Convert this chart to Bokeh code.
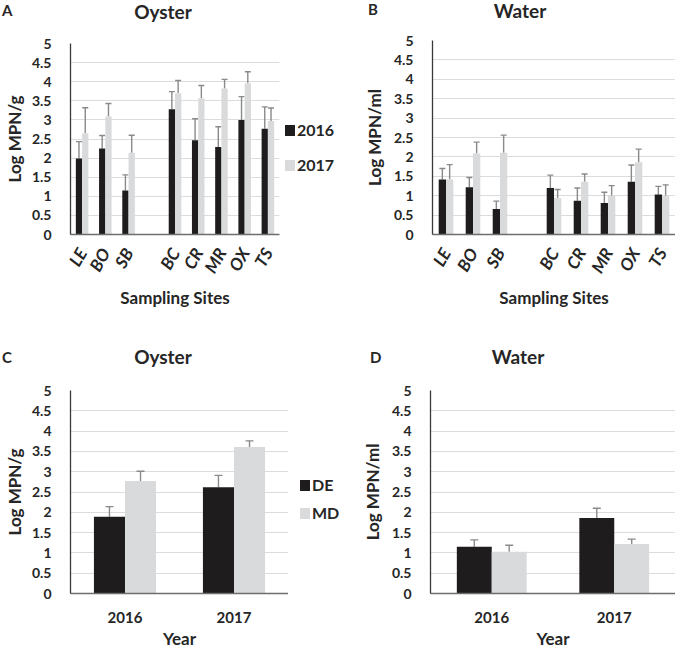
from bokeh.plotting import figure
from bokeh.models import (FactorRange, Range1d, Whisker, TeeHead, Div,
                          NumeralTickFormatter, SingleIntervalTicker, ColumnDataSource)
from bokeh.transform import dodge
from bokeh.layouts import row, column
from bokeh.embed import file_html
from bokeh.resources import INLINE

# ---------------- data ----------------
sites = ["LE", "BO", "SB", "BC", "CR", "MR", "OX", "TS"]
site_axis = ["LE", "BO", "SB", " ", "BC", "CR", "MR", "OX", "TS"]
series_years = ["2016", "2017"]

oyster_2016 = [1.99, 2.25, 1.15, 3.28, 2.47, 2.29, 3.00, 2.77]
oyster_2016_err = [0.44, 0.34, 0.41, 0.46, 0.56, 0.53, 0.61, 0.57]
oyster_2017 = [2.65, 3.09, 2.14, 3.70, 3.57, 3.82, 3.96, 2.97]
oyster_2017_err = [0.67, 0.34, 0.46, 0.33, 0.33, 0.24, 0.30, 0.34]

water_2016 = [1.42, 1.22, 0.66, 1.20, 0.87, 0.81, 1.36, 1.03]
water_2016_err = [0.28, 0.25, 0.20, 0.33, 0.33, 0.28, 0.43, 0.21]
water_2017 = [1.42, 2.09, 2.11, 0.94, 1.36, 1.00, 1.86, 1.00]
water_2017_err = [0.38, 0.29, 0.45, 0.22, 0.20, 0.26, 0.34, 0.28]

years = ["2016", "2017"]
states = ["DE", "MD"]
oyster_DE = [1.89, 2.62]
oyster_DE_err = [0.25, 0.29]
oyster_MD = [2.77, 3.61]
oyster_MD_err = [0.24, 0.15]
water_DE = [1.15, 1.86]
water_DE_err = [0.17, 0.24]
water_MD = [1.03, 1.22]
water_MD_err = [0.16, 0.12]

# ---------------- style ----------------
DARK = "#1e1c1d"
LIGHT = "#d9dadb"
ERR = "#8a8a8a"
TXT = "#262626"
GRID = "#dcdcdc"
FONT = "Lato"


def header(letter, title, width, height, letter_x, letter_top, title_cx, title_top):
    html = (
        f'<div style="position:relative;width:{width}px;height:{height}px;'
        f'font-family:{FONT};font-weight:bold;color:{TXT};white-space:nowrap;">'
        f'<span style="position:absolute;left:{letter_x}px;top:{letter_top}px;'
        f'font-size:15px;line-height:18px;">{letter}</span>'
        f'<span style="position:absolute;left:{title_cx - 60}px;width:120px;text-align:center;'
        f'top:{title_top}px;font-size:19px;line-height:22px;">{title}</span></div>'
    )
    return Div(text=html, width=width, height=height, margin=0)


def legend_div(labels, width, height, sq_x, centers):
    parts = [f'<div style="position:relative;width:{width}px;height:{height}px;'
             f'font-family:{FONT};font-weight:bold;font-size:16px;color:{TXT};white-space:nowrap;">']
    for lab, col, cy in zip(labels, (DARK, LIGHT), centers):
        parts.append(f'<span style="position:absolute;left:{sq_x}px;top:{cy - 5}px;'
                     f'width:10px;height:11px;background:{col};"></span>')
        parts.append(f'<span style="position:absolute;left:{sq_x + 12}px;top:{cy - 10}px;'
                     f'line-height:20px;">{lab}</span>')
    parts.append('</div>')
    return Div(text="".join(parts), width=width, height=height, margin=0)


def panel(factors, cats, a, a_err, b, b_err, ylabel, xlabel,
          width, height, left, right, top, bottom, bar_w, rotate, ylab_standoff, head):
    p = figure(x_range=FactorRange(factors=factors), y_range=Range1d(0, 5),
               width=width, height=height, output_backend="svg", toolbar_location=None,
               min_border_left=left, min_border_right=right,
               min_border_top=top, min_border_bottom=bottom, margin=0)
    p.background_fill_color = "white"
    p.border_fill_color = "white"
    p.outline_line_color = None

    src = ColumnDataSource(dict(
        cat=cats, a=a, b=b,
        au=[v + e for v, e in zip(a, a_err)],
        bu=[v + e for v, e in zip(b, b_err)],
    ))
    xa = dodge("cat", -bar_w / 2, range=p.x_range)
    xb = dodge("cat", bar_w / 2, range=p.x_range)
    p.vbar(x=xa, top="a", width=bar_w, source=src, fill_color=DARK, line_color=None)
    p.vbar(x=xb, top="b", width=bar_w, source=src, fill_color=LIGHT, line_color=None)
    for base, lo, hi in ((xa, "a", "au"), (xb, "b", "bu")):
        w = Whisker(base=base, lower=lo, upper=hi, source=src, dimension="height",
                    line_color=ERR, line_width=1.4, lower_head=None,
                    upper_head=TeeHead(size=head, line_color=ERR, line_width=1.4))
        p.add_layout(w)

    p.yaxis.ticker = SingleIntervalTicker(interval=0.5, num_minor_ticks=0)
    p.yaxis.formatter = NumeralTickFormatter(format="0.[0]")
    for ax in (p.xaxis[0], p.yaxis[0]):
        ax.major_tick_line_color = None
        ax.minor_tick_line_color = None
        ax.major_label_text_font = FONT
        ax.major_label_text_font_style = "bold"
        ax.major_label_text_color = TXT
        ax.axis_label_text_font = FONT
        ax.axis_label_text_font_style = "bold"
        ax.axis_label_text_color = TXT
        ax.axis_label_text_font_size = "17px"
    p.yaxis.major_label_text_font_size = "14px"
    p.yaxis.axis_line_color = "#3a3a3a"
    p.yaxis.axis_line_width = 1.3
    p.yaxis.major_label_standoff = 13
    p.yaxis.axis_label_standoff = ylab_standoff
    p.yaxis.axis_label = ylabel
    p.xaxis.axis_line_color = "#6e6e6e"
    p.xaxis.axis_line_width = 1.5
    p.xaxis.axis_label = xlabel
    if rotate:
        p.xaxis.major_label_orientation = 1.05
        p.xaxis.major_label_text_font_style = "bold italic"
        p.xaxis.major_label_text_font_size = "17px"
        p.xaxis.major_label_standoff = 9
        p.xaxis.axis_label_standoff = 2
    else:
        p.xaxis.major_label_text_font_size = "15px"
        p.xaxis.major_label_standoff = 12
        p.xaxis.axis_label_standoff = 2

    p.xgrid.grid_line_color = None
    p.ygrid.grid_line_color = GRID
    p.ygrid.grid_line_width = 1.2
    return p


# ---------------- top row (page y 0-310) ----------------
hA = header("A", "Oyster", 335, 30, 2, 1, 163, 1)
pA = panel(site_axis, sites, oyster_2016, oyster_2016_err, oyster_2017, oyster_2017_err,
           "Log MPN/g", "Sampling Sites", 282, 280, 63, 3, 13, 75, 0.27, True, 4, 6)
lA = legend_div(series_years, 53, 280, 3, [100, 135])

hB = header("B", "Water", 340, 30, 33, 0, 185, 0)
pB = panel(site_axis, sites, water_2016, water_2016_err, water_2017, water_2017_err,
           "Log MPN/ml", "Sampling Sites", 340, 280, 97, 0, 10, 75, 0.27, True, 6, 6)

# ---------------- bottom row (page y 310-652) ----------------
hC = header("C", "Oyster", 340, 60, 2, 38, 163, 36)
pC = panel(years, years, oyster_DE, oyster_DE_err, oyster_MD, oyster_MD_err,
           "Log MPN/g", "Year", 288, 282, 63, 0, 20, 59, 0.285, False, 4, 8)
lC = legend_div(states, 52, 282, 12, [115, 143])

hD = header("D", "Water", 335, 60, 30, 38, 178, 36)
pD = panel(years, years, water_DE, water_DE_err, water_MD, water_MD_err,
           "Log MPN/ml", "Year", 335, 282, 90, 0, 20, 59, 0.285, False, 6, 8)

layout = column(
    row(column(hA, row(pA, lA)), column(hB, pB)),
    row(column(hC, row(pC, lC)), column(hD, pD)),
)

with open("out.html", "w") as f:
    f.write(file_html(layout, INLINE))
